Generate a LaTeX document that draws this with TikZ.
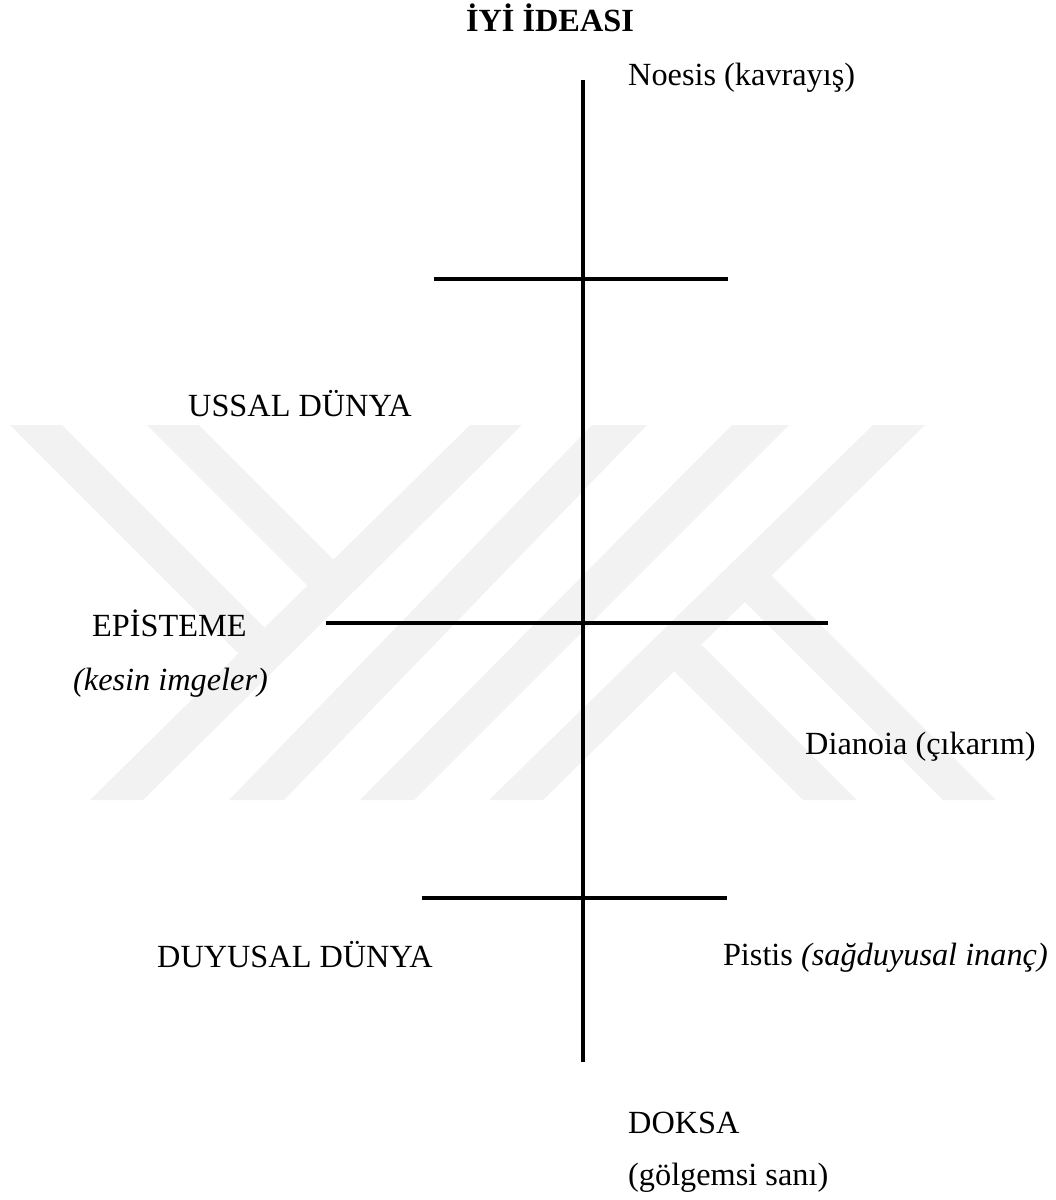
\documentclass[tikz,border=0pt]{standalone}
\usepackage{fontspec}
\setmainfont{Liberation Serif}
\usepackage{tikz}

\begin{document}
\begin{tikzpicture}[x=1pt,y=-1pt,
    lbl/.style={inner sep=0pt,font=\fontsize{32.3}{39}\selectfont},
    wm/.style={fill=black!5},
    bar/.style={line width=3.5pt}]
  \useasboundingbox (0,0) rectangle (1056,1200);
  % watermark
  \fill[wm] (470,425) -- (522,425) -- (143,800) -- (90,800) -- cycle;
  \fill[wm] (592,425) -- (647,425) -- (284,800) -- (229,800) -- cycle;
  \fill[wm] (732,425) -- (789,425) -- (414,800) -- (360,800) -- cycle;
  \fill[wm] (873,425) -- (925,425) -- (543,800) -- (489,800) -- cycle;
  \fill[wm] (10,425) -- (62,425) -- (264.7,627.7) -- (238.5,653.5) -- cycle;
  \fill[wm] (147,425) -- (199,425) -- (333.6,559.6) -- (307.5,585.5) -- cycle;
  \fill[wm] (771.6,575.6) -- (996,800) -- (943,800) -- (744.8,601.8) -- cycle;
  \fill[wm] (701.4,644.4) -- (857,800) -- (803,800) -- (674.2,671.2) -- cycle;

  \coordinate (top) at (583,80);
  \coordinate (bot) at (583,1062);
  \coordinate (n1) at (434,279);
  \coordinate (n2) at (728,279);
  \coordinate (e1) at (326,623);
  \coordinate (e2) at (828,623);
  \coordinate (d1) at (422,898);
  \coordinate (d2) at (727,898);
  \draw[line width=3.2pt] (top) -- (bot);
  \draw[bar] (n1) -- (n2);
  \draw[bar,line width=4.5pt] (e1) -- (e2);
  \draw[bar] (d1) -- (d2);

  \node[lbl,anchor=base] (title) at (550,31) {\textbf{İYİ İDEASI}};
  \node[lbl,anchor=base west] (noesis) at (628,85) {Noesis (kavrayış)};
  \node[lbl,anchor=base west] (ussal) at (188,416) {USSAL DÜNYA};
  \node[lbl,anchor=base west] (episteme) at (92,636) {EPİSTEME};
  \node[lbl,anchor=base west] (kesin) at (73,690) {\textit{(kesin imgeler)}};
  \node[lbl,anchor=base west] (dianoia) at (805,754) {Dianoia (çıkarım)};
  \node[lbl,anchor=base west] (duyusal) at (157,967) {DUYUSAL DÜNYA};
  \node[lbl,anchor=base east] (pistis) at (1048,965) {Pistis \textit{(sağduyusal inanç)}};
  \node[lbl,anchor=base west] (doksa) at (628,1133) {DOKSA};
  \node[lbl,anchor=base west] (golge) at (628,1185) {(gölgemsi sanı)};
\end{tikzpicture}
\end{document}
